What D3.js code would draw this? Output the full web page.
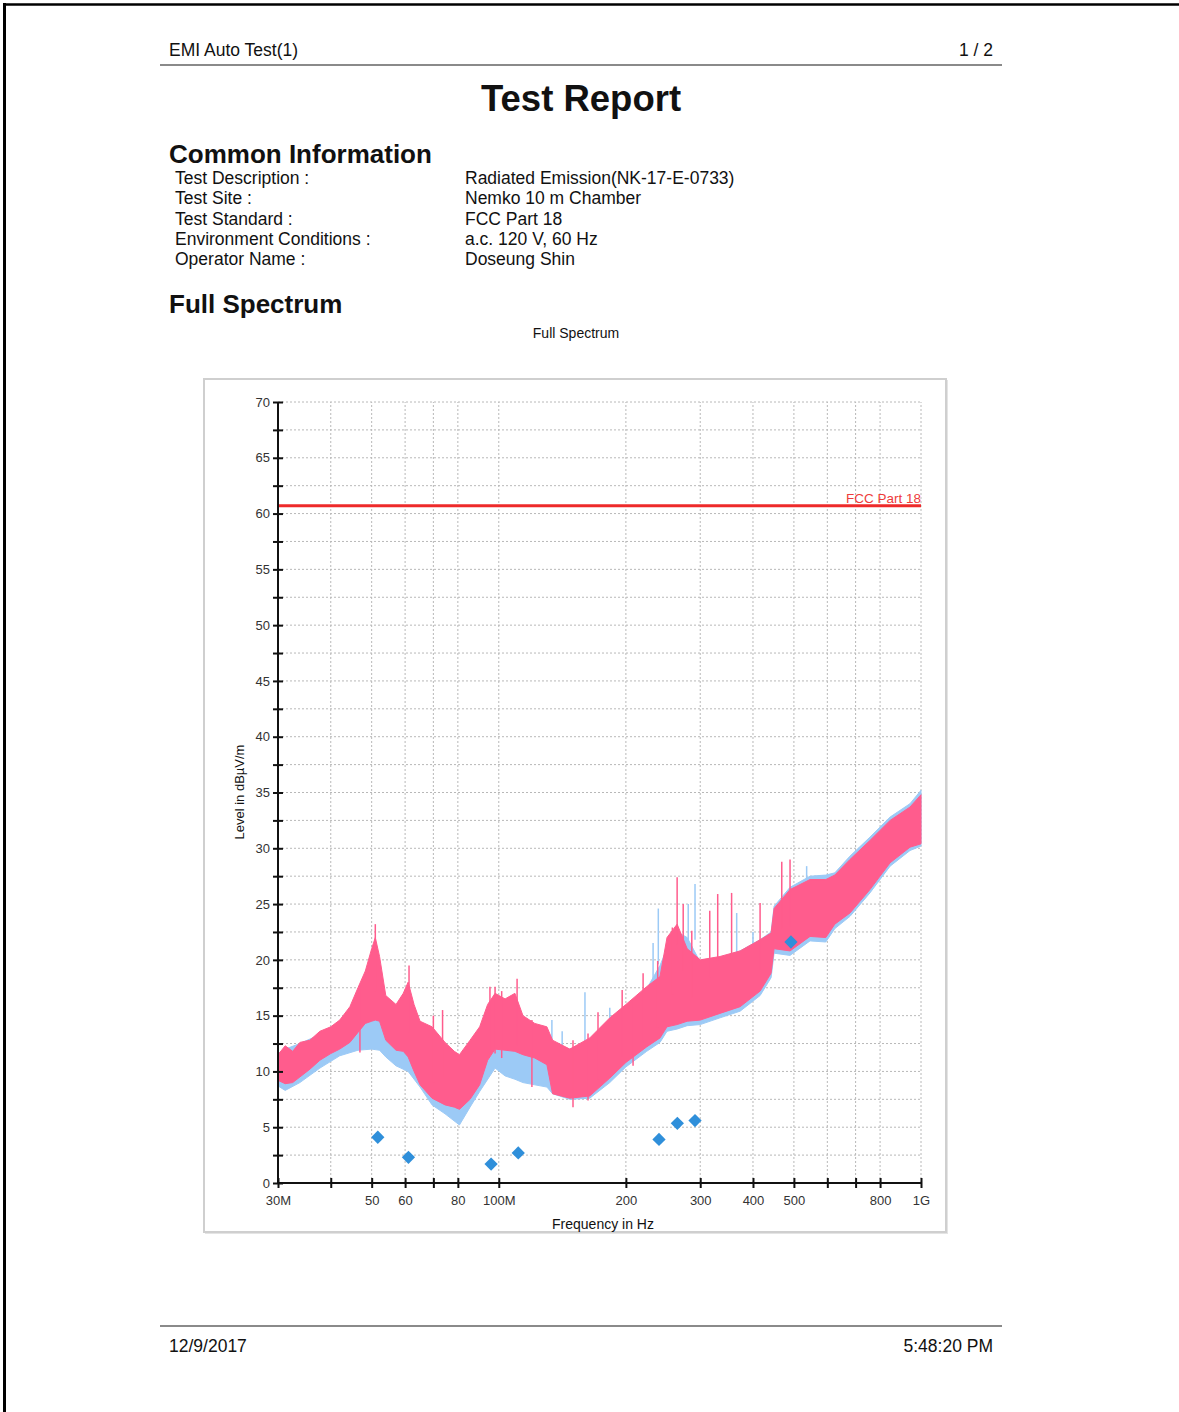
<!DOCTYPE html>
<html>
<head>
<meta charset="utf-8">
<script src="https://cdn.jsdelivr.net/npm/d3@7"></script>
<style>
  body { margin: 0; background: #fff; }
  svg { display: block; font-family: "Liberation Sans", Arial, sans-serif; }
</style>
</head>
<body>
<svg id="page" width="1179" height="1412"></svg>
<script>
// report texts
var headerLeft = 'EMI Auto Test(1)', headerRight = '1 / 2';
var infoLabels = ['Test Description :', 'Test Site :', 'Test Standard :', 'Environment Conditions :', 'Operator Name :'];
var infoValues = ['Radiated Emission(NK-17-E-0733)', 'Nemko 10 m Chamber', 'FCC Part 18', 'a.c. 120 V, 60 Hz', 'Doseung Shin'];
var footerLeft = '12/9/2017', footerRight = '5:48:20 PM';

// axes (MHz / dBuV/m)
var xTickValues = [30, 40, 50, 60, 70, 80, 100, 200, 300, 400, 500, 600, 700, 800, 1000];
var xTickLabels = {30: '30M', 50: '50', 60: '60', 80: '80', 100: '100M', 200: '200', 300: '300', 400: '400', 500: '500', 800: '800', 1000: '1G'};
var yTickValues = d3.range(0, 70.01, 2.5);

// limit line
var limitName = 'FCC Part 18';
var limitFreq = [30, 1000];
var limitLevel = [60.7, 60.7];

// pink trace envelope (freq MHz, min, max)
var pinkFreq = [30, 31.2, 32.5, 33.8, 35.7, 37.7, 40, 42, 44.4, 46.4, 48.3, 50, 51, 52.2, 54, 57.1, 59.4, 61, 63, 65.1, 69.5, 74.6, 78.5, 80.7, 85.5, 90.1, 94.1, 98, 103.5, 109.2, 114.1, 121.7, 130, 134.1, 147.3, 164.2, 183.2, 200, 224, 240.9, 250.3, 264.5, 279.4, 300, 334, 372.9, 415.8, 441.5, 448.8, 489.6, 546, 595, 625, 679, 757, 845, 942, 1000];
var pinkLo = [9.2, 8.9, 9.0, 9.5, 10.2, 11.0, 11.6, 12.0, 12.6, 13.5, 14.3, 14.5, 14.6, 14.5, 12.8, 11.9, 11.8, 11.3, 10.0, 8.8, 7.6, 7.0, 6.8, 6.6, 7.5, 8.8, 11.0, 12.0, 11.9, 11.8, 11.5, 11.2, 10.6, 8.0, 7.6, 7.8, 9.4, 10.8, 12.2, 13.0, 14.0, 14.2, 14.5, 14.6, 15.2, 15.8, 17.2, 18.8, 21.0, 20.8, 22.1, 22.0, 23.2, 24.2, 26.3, 28.7, 30.1, 30.4];
var pinkHi = [11.5, 12.3, 11.8, 12.6, 12.8, 13.6, 14.0, 14.6, 15.8, 17.5, 19.0, 21.0, 22.0, 20.3, 16.8, 16.0, 17.0, 18.0, 16.0, 14.5, 14.0, 12.6, 11.8, 11.5, 12.8, 14.0, 16.0, 17.0, 16.5, 17.0, 15.0, 14.3, 14.0, 12.8, 12.0, 13.0, 14.8, 16.0, 17.6, 18.5, 22.0, 23.2, 21.0, 20.0, 20.3, 20.8, 21.8, 22.4, 24.6, 26.3, 27.2, 27.2, 27.6, 29.0, 30.7, 32.5, 33.7, 34.8];

// blue trace envelope
var blueFreq = [30, 31.2, 33.8, 37.7, 42, 46.4, 50, 52.2, 54, 57.1, 61, 65.1, 69.5, 74.6, 80.7, 85.5, 90.1, 98, 103.5, 109.2, 114.1, 121.7, 130, 134.1, 147.3, 164.2, 183.2, 200, 224, 240.9, 250.3, 264.5, 279.4, 300, 334, 372.9, 415.8, 441.5, 448.8, 489.6, 546, 595, 625, 679, 757, 845, 942, 1000];
var blueLo = [8.7, 8.3, 9.0, 10.3, 11.4, 11.9, 12.0, 11.9, 11.3, 10.5, 10.0, 8.6, 7.0, 6.2, 5.2, 6.8, 8.2, 10.3, 9.6, 9.3, 9.0, 8.8, 8.6, 8.0, 7.5, 7.6, 9.0, 10.4, 11.8, 12.6, 13.6, 13.8, 14.1, 14.2, 14.8, 15.4, 16.8, 18.4, 20.6, 20.4, 21.7, 21.6, 22.8, 23.9, 26.0, 28.4, 29.8, 30.2];
var blueHi = [11.6, 12.0, 12.5, 13.3, 14.0, 14.8, 15.2, 15.0, 14.0, 13.5, 13.0, 12.5, 12.0, 11.0, 10.5, 11.5, 12.5, 13.5, 12.6, 12.4, 12.0, 12.2, 12.5, 12.5, 12.0, 12.6, 14.2, 15.6, 17.4, 19.5, 21.0, 22.5, 22.0, 19.8, 20.2, 20.8, 21.8, 22.5, 24.8, 26.5, 27.5, 27.6, 27.8, 29.3, 31.0, 32.8, 34.0, 35.2];

// single spikes standing out of the band
var pinkSpikeFreq = [46.9, 51.0, 61.3, 70, 73.6, 95.3, 98, 101.6, 110.5, 119.8, 149.9, 162.7, 171.8, 196, 208, 219.7, 237.9, 257.7, 264.5, 273.4, 286.5, 316, 330, 356, 415.8, 468, 489.6];
var pinkSpikeTop = [17.7, 23.2, 19.5, 15.0, 15.5, 17.6, 17.6, 17.2, 18.3, 14.6, 12.8, 13.4, 15.3, 17.3, 16.5, 18.8, 19.9, 22.9, 27.4, 25.0, 22.6, 24.4, 25.9, 26.0, 25.1, 28.8, 29.0];
var blueSpikeFreq = [133.6, 141.3, 160, 183.2, 232, 238.7, 281, 291.6, 366, 400, 536, 598];
var blueSpikeTop = [14.6, 13.6, 17.1, 15.7, 21.5, 24.6, 25.0, 26.8, 24.2, 22.5, 28.4, 27.6];

// quasi-peak results
var qpFreq = [51.7, 61.1, 95.9, 111.2, 239.6, 264.8, 291.6, 492];
var qpLevel = [4.1, 2.3, 1.7, 2.7, 3.9, 5.35, 5.6, 21.6];

var svg = d3.select('#page');
var ink = '#111';

// page border
svg.append('line').attr('x1', 4).attr('x2', 1179).attr('y1', 4.5).attr('y2', 4.5)
   .attr('stroke', '#000').attr('stroke-width', 2.5);
svg.append('line').attr('x1', 4.5).attr('x2', 4.5).attr('y1', 3).attr('y2', 1412)
   .attr('stroke', '#000').attr('stroke-width', 3);

// header / footer
svg.append('text').attr('x', 169).attr('y', 56).attr('font-size', 17.5).attr('fill', ink).text(headerLeft);
svg.append('text').attr('x', 993).attr('y', 56).attr('font-size', 17.5).attr('fill', ink)
   .attr('text-anchor', 'end').text(headerRight);
svg.append('line').attr('x1', 160).attr('x2', 1002).attr('y1', 65).attr('y2', 65)
   .attr('stroke', '#8a8a8a').attr('stroke-width', 2);
svg.append('line').attr('x1', 160).attr('x2', 1002).attr('y1', 1326).attr('y2', 1326)
   .attr('stroke', '#8a8a8a').attr('stroke-width', 2);
svg.append('text').attr('x', 169).attr('y', 1352).attr('font-size', 17.5).attr('fill', ink).text(footerLeft);
svg.append('text').attr('x', 993).attr('y', 1352).attr('font-size', 17.5).attr('fill', ink)
   .attr('text-anchor', 'end').text(footerRight);

svg.append('text').attr('x', 581).attr('y', 111).attr('font-size', 36.5).attr('font-weight', 'bold')
   .attr('text-anchor', 'middle').attr('fill', ink).text('Test Report');
svg.append('text').attr('x', 169).attr('y', 163).attr('font-size', 26).attr('font-weight', 'bold')
   .attr('fill', ink).text('Common Information');

svg.selectAll('.lab').data(infoLabels).enter().append('text')
   .attr('x', 175).attr('y', (d, i) => 184 + i * 20.25)
   .attr('font-size', 17.5).attr('fill', ink).text(d => d);
svg.selectAll('.val').data(infoValues).enter().append('text')
   .attr('x', 465).attr('y', (d, i) => 184 + i * 20.25)
   .attr('font-size', 17.5).attr('fill', ink).text(d => d);

svg.append('text').attr('x', 169).attr('y', 313).attr('font-size', 26).attr('font-weight', 'bold')
   .attr('fill', ink).text('Full Spectrum');
svg.append('text').attr('x', 576).attr('y', 338).attr('font-size', 14)
   .attr('text-anchor', 'middle').attr('fill', ink).text('Full Spectrum');

// chart frame
svg.append('rect').attr('x', 205).attr('y', 380).attr('width', 743).attr('height', 854)
   .attr('fill', '#e4e4e4');
svg.append('rect').attr('x', 204).attr('y', 379).attr('width', 742).attr('height', 853)
   .attr('fill', '#fff').attr('stroke', '#cfcfcf').attr('stroke-width', 2);

// plot
var x = d3.scaleLog().domain([30, 1000]).range([278, 921]);
var y = d3.scaleLinear().domain([0, 70]).range([1183, 402]);

var plot = svg.append('g');

// grid
plot.selectAll('.hg').data(yTickValues.filter(d => d > 0)).enter().append('line')
    .attr('x1', x(30)).attr('x2', x(1000)).attr('y1', d => y(d)).attr('y2', d => y(d))
    .attr('stroke', '#b8b8b8').attr('stroke-width', 1).attr('stroke-dasharray', '2,2');
plot.selectAll('.vg').data(xTickValues.filter(d => d > 30)).enter().append('line')
    .attr('x1', d => x(d)).attr('x2', d => x(d)).attr('y1', y(0)).attr('y2', y(70))
    .attr('stroke', '#b8b8b8').attr('stroke-width', 1).attr('stroke-dasharray', '2,2');

// limit
plot.append('path').datum(limitFreq.map((f, i) => [f, limitLevel[i]]))
    .attr('d', d3.line().x(d => x(d[0])).y(d => y(d[1])))
    .attr('stroke', '#ee2a2a').attr('stroke-width', 3).attr('fill', 'none');
plot.append('text').attr('x', x(1000)).attr('y', y(limitLevel[1]) - 3)
    .attr('text-anchor', 'end').attr('font-size', 13.5).attr('fill', '#ee3b3b').text(limitName);

// traces
var band = d3.area().x(d => x(d.f)).y0(d => y(d.lo)).y1(d => y(d.hi));
var blueRows = blueFreq.map((f, i) => ({f: f, lo: blueLo[i], hi: blueHi[i]}));
var pinkRows = pinkFreq.map((f, i) => ({f: f, lo: pinkLo[i], hi: pinkHi[i]}));
var blueCol = '#9ccaf6', pinkCol = '#ff5c8d';

plot.append('path').datum(blueRows).attr('d', band).attr('fill', blueCol)
    .attr('stroke', blueCol).attr('stroke-width', 1);
plot.selectAll('.bs').data(blueSpikeFreq).enter().append('line')
    .attr('x1', d => x(d)).attr('x2', d => x(d))
    .attr('y1', (d, i) => y(blueSpikeTop[i])).attr('y2', (d, i) => y(blueSpikeTop[i] - 5))
    .attr('stroke', blueCol).attr('stroke-width', 1.5);

plot.append('path').datum(pinkRows).attr('d', band).attr('fill', pinkCol)
    .attr('stroke', pinkCol).attr('stroke-width', 1);
plot.selectAll('.ps').data(pinkSpikeFreq).enter().append('line')
    .attr('x1', d => x(d)).attr('x2', d => x(d))
    .attr('y1', (d, i) => y(pinkSpikeTop[i])).attr('y2', (d, i) => y(pinkSpikeTop[i] - 6))
    .attr('stroke', pinkCol).attr('stroke-width', 1.5);

// quasi-peak diamonds
plot.selectAll('.qp').data(qpFreq).enter().append('path')
    .attr('d', d3.symbol(d3.symbolSquare, 88))
    .attr('transform', (d, i) => 'translate(' + x(d) + ',' + y(qpLevel[i]) + ') rotate(45)')
    .attr('fill', '#2f8fda');

// axes
var xAxis = d3.axisBottom(x).tickValues(xTickValues)
    .tickFormat(d => xTickLabels[d] || '').tickSize(5).tickPadding(8);
var gx = svg.append('g').attr('transform', 'translate(0,' + y(0) + ')').call(xAxis);
gx.selectAll('.tick line').attr('y1', -5).attr('y2', 5);

var yAxis = d3.axisLeft(y).tickValues(yTickValues)
    .tickFormat(d => d % 5 === 0 ? d : '').tickSize(5).tickPadding(3);
var gy = svg.append('g').attr('transform', 'translate(' + x(30) + ',0)').call(yAxis);
gy.selectAll('.tick line').attr('x1', -5).attr('x2', 5);

[gx, gy].forEach(function (g) {
  g.select('.domain').attr('stroke', '#111').attr('stroke-width', 2);
  g.selectAll('.tick line').attr('stroke', '#111').attr('stroke-width', 2);
  g.selectAll('.tick text').attr('font-size', 13).attr('fill', '#333')
   .attr('font-family', '"Liberation Sans", Arial, sans-serif');
});
// drop the outer tick caps of the domain path
gx.select('.domain').attr('d', 'M' + x(30) + ',0H' + x(1000));
gy.select('.domain').attr('d', 'M0,' + y(0) + 'V' + y(70));

svg.append('text').attr('x', 603).attr('y', 1229).attr('text-anchor', 'middle')
   .attr('font-size', 14).attr('fill', ink).text('Frequency in Hz');
svg.append('text').attr('transform', 'translate(244,792) rotate(-90)').attr('text-anchor', 'middle')
   .attr('font-size', 13).attr('fill', ink).text('Level in dBµV/m');
</script>
</body>
</html>
